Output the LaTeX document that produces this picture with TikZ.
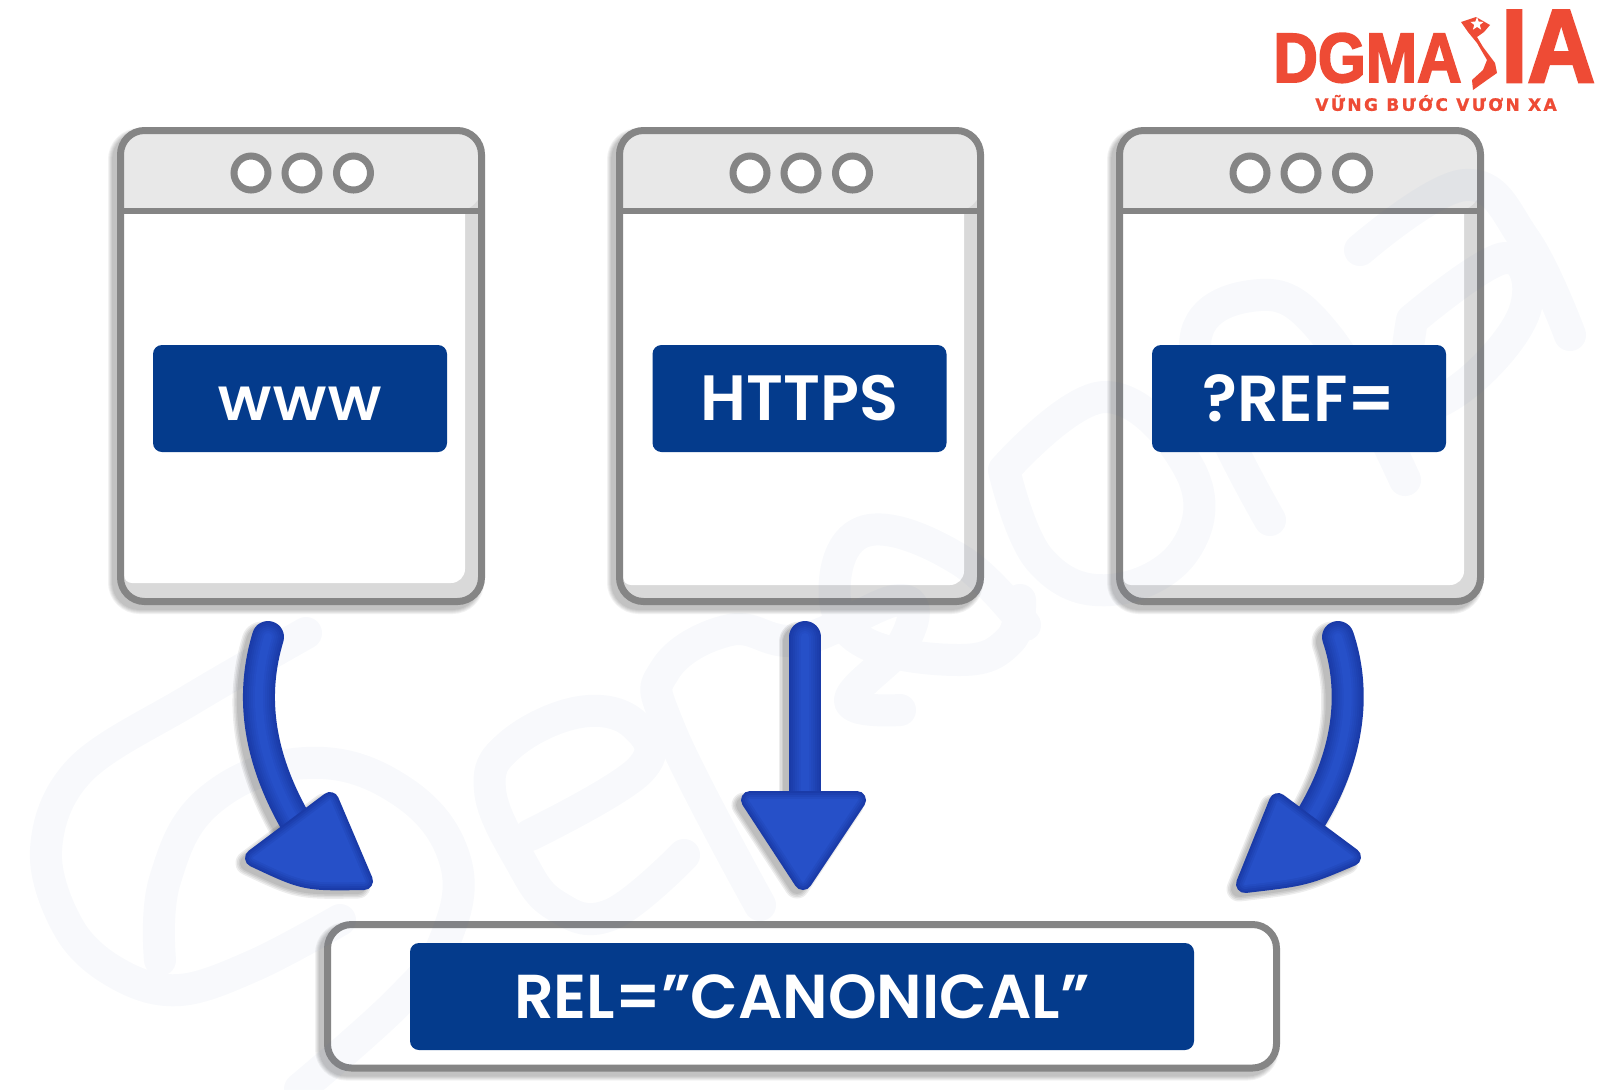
\documentclass[tikz,border=0pt]{standalone}
\usepackage{fontspec}
\usetikzlibrary{shapes.geometric}
\setmainfont{Poppins}[BoldFont={Poppins SemiBold}]
\newfontfamily\logofont{Liberation Sans}[BoldFeatures={FakeBold=2.5,FakeStretch=.88}]
\newfontfamily\logotall{Liberation Sans}[BoldFeatures={FakeBold=2.5,FakeStretch=.9}]
\newfontfamily\tagfont[LetterSpace=14,BoldFeatures={FakeBold=1}]{DejaVu Sans}
\definecolor{wgrey}{HTML}{858585}
\definecolor{wbar}{HTML}{E8E8E8}
\definecolor{wband}{HTML}{D9D9D9}
\definecolor{navy}{HTML}{043B8C}
\definecolor{arrowdark}{HTML}{1A3BA8}
\definecolor{arrowlight}{HTML}{2650C8}
\definecolor{logored}{HTML}{EE4B35}
\definecolor{wmark}{HTML}{3C64B4}
\tikzset{
  winfill/.style={rectangle,rounded corners=12pt,minimum width=180.5pt,minimum height=235.5pt,inner sep=0pt,outer sep=0pt,fill=wband},
  winframe/.style={rectangle,rounded corners=12pt,minimum width=180.5pt,minimum height=235.5pt,inner sep=0pt,outer sep=0pt,draw=wgrey,line width=3.5pt},
  dotbtn/.style={circle,draw=wgrey,fill=white,line width=3.5pt,minimum size=17pt,inner sep=0pt,outer sep=0pt},
  bluebox/.style={rectangle,rounded corners=4.5pt,fill=navy,text=white,minimum width=147pt,minimum height=53.5pt,inner sep=0pt,outer sep=0pt,font=\bfseries\fontsize{31}{36}\selectfont},
  wm/.style={draw=wmark,line width=16pt,line cap=round,line join=round}
}
% soft drop shadow of a stroked outline
\newcommand{\softstroke}[2]{%
  \foreach \dd in {0,1,2,3,4}{%
    \draw[black,opacity=.05,line width=#2+\dd pt,line join=round,line cap=round,transform canvas={xshift=-2.5pt,yshift=-2.5pt}] #1;}}
% one browser window
\newcommand{\browser}[3]{%
  \softstroke{(#2-180.5,130.5) [rounded corners=12pt] -- (#2+180.5,130.5) -- (#2+180.5,601.5) -- (#2-180.5,601.5) -- cycle}{3.5pt}
  \node[winfill] (#1fill) at (#2,366) {};
  \fill[white] (#2-177,211) -- (#2+164,211) [rounded corners=7pt] -- (#2+164,#3) [rounded corners=4pt] -- (#2-177,#3) [sharp corners] -- cycle;
  \fill[wbar,rounded corners=12pt] (#2-180.5,211) -- (#2-180.5,130.5) -- (#2+180.5,130.5) -- (#2+180.5,211) [sharp corners] -- cycle;
  \draw[wgrey,line width=3pt] (#2-180.5,211) -- (#2+183,211);
  \node[winframe] (#1) at (#2,366) {};
  \node[dotbtn] (#1a) at (#2-50,173) {};
  \node[dotbtn] (#1b) at (#2+1,173) {};
  \node[dotbtn] (#1c) at (#2+52.5,173) {};
}
% one thick arrow: #1 shaft path, #2 head path
\newcommand{\bluearrow}[2]{%
  \foreach \dd in {0,1.5,3,4.5}{%
    \draw[black,opacity=.07,line width=16pt+\dd pt,line cap=round,transform canvas={xshift=-3pt,yshift=-2.5pt}] #1;
    \draw[black,opacity=.07,fill=black,line width=8pt+\dd pt,line join=round,transform canvas={xshift=-3pt,yshift=-2.5pt}] #2;}
  \foreach \ww/\mm in {16/0,14/17,12/33,10/50,8/67,6/83,4/100}{%
    \draw[arrowlight!\mm!arrowdark,line width=\ww pt,line cap=round] #1;}
  \foreach \ww/\mm in {9/0,7/25,5/50,3/75,1/100}{%
    \draw[arrowlight!\mm!arrowdark,fill=arrowlight!\mm!arrowdark,line width=\ww pt,line join=round] #2;}
}
\begin{document}
\begin{tikzpicture}[x=0.5pt,y=-0.5pt]
\useasboundingbox (0,0) rectangle (1600,1089);
\fill[white] (0,0) rectangle (1600,1089);

% windows
\browser{wa}{301}{583}
\browser{wb}{800}{585}
\browser{wc}{1300}{585}

% lower frame
\softstroke{[rounded corners=12pt] (327.5,924.5) -- (1276.5,924.5) -- (1276.5,1068) -- (327.5,1068) -- cycle}{3.5pt}
\node[rectangle,rounded corners=12pt,minimum width=474.5pt,minimum height=71.75pt,inner sep=0pt,outer sep=0pt,fill=white,draw=wgrey,line width=3.5pt] (canon) at (802,996.25) {};

% pale watermark
\begin{scope}[transparency group,opacity=.035]
\draw[wm] plot[smooth,tension=.6] coordinates {(306,633) (190,700) (80,770) (46,850) (70,930) (120,975) (180,990) (255,965) (340,920)};
\draw[wm] plot[smooth,tension=.7] coordinates {(160,960) (165,880) (210,800) (306,763) (400,790) (455,860) (445,940) (400,1000) (300,1089)};
\draw[wm] plot[smooth,tension=.7] coordinates {(530,835) (640,770) (635,725) (580,712) (510,745) (490,790) (520,860) (555,905) (610,915) (684,855)};
\draw[wm] plot[smooth,tension=.7] coordinates {(760,905) (670,730) (665,670) (730,630) (800,640) (900,600) (905,640) (850,700) (900,710)};
\draw[wm] plot[smooth,tension=.7] coordinates {(1025,625) (960,560) (870,530) (835,580) (860,640) (960,660) (1010,640) (1020,600)};
\draw[wm] plot[smooth,tension=.7] coordinates {(1004,470) (1105,397) (1190,470) (1185,550) (1110,590) (1040,560) (1004,470)};
\draw[wm] plot[smooth,tension=.7] coordinates {(1270,520) (1195,350) (1260,295) (1330,340) (1405,480)};
\draw[wm] plot[smooth,tension=.7] coordinates {(1360,250) (1465,185) (1525,240) (1570,335)};
\draw[wm] plot[smooth,tension=.7] coordinates {(1412,320) (1505,258) (1525,310) (1465,385) (1410,400) (1412,320)};
\end{scope}

% blue labels
\node[bluebox] (www) at (300,398.5) {\smash{\raisebox{-10.75pt}{\fontsize{24}{30}\selectfont\addfontfeature{FakeStretch=1.12}WWW}}};
\node[bluebox] (https) at (799.5,398.5) {\fontsize{32}{36}\selectfont HTTPS};
\node[bluebox] (ref) at (1299,398.5) {\fontsize{32.5}{36}\selectfont ?REF=};
\node[bluebox,minimum width=392pt] (canonbox) at (802,996.5) {REL=”CANONICAL”};

% arrows
\coordinate (a1s) at (268,637); \coordinate (a1p) at (252,690); \coordinate (a1q) at (252,760); \coordinate (a1e) at (312,848);
\coordinate (h1a) at (330,801); \coordinate (h1b) at (364,881); \coordinate (h1c) at (254,858);
\coordinate (h1d) at (305,882);
\bluearrow{(a1s) .. controls (a1p) and (a1q) .. (a1e)}{(h1a) -- (h1b) .. controls (h1d) .. (h1c) -- cycle}

\coordinate (a2s) at (805,637); \coordinate (a2e) at (805,810);
\coordinate (h2a) at (750,800); \coordinate (h2b) at (857,800); \coordinate (h2c) at (803,881);
\bluearrow{(a2s) -- (a2e)}{(h2a) -- (h2b) -- (h2c) -- cycle}

\coordinate (a3s) at (1338,637); \coordinate (a3p) at (1356,690); \coordinate (a3q) at (1352,760); \coordinate (a3e) at (1300,835);
\coordinate (h3a) at (1278,802); \coordinate (h3b) at (1352,857); \coordinate (h3c) at (1245,884);
\coordinate (h3d) at (1305,877);
\bluearrow{(a3s) .. controls (a3p) and (a3q) .. (a3e)}{(h3a) -- (h3b) .. controls (h3d) .. (h3c) -- cycle}

% logo
\node[anchor=base west,inner sep=0pt,text=logored,font=\logofont\bfseries\fontsize{35}{40}\selectfont] (dgma) at (1273,82) {DGMA};
\node[anchor=base west,inner sep=0pt,text=logored,font=\logotall\bfseries\fontsize{52}{58}\selectfont] (ia) at (1501,82) {IA};
\fill[logored] (1461,22) -- (1476,17) -- (1490,25) -- (1484,32) -- (1477,37) -- (1483,47) -- (1495,63) -- (1497,73) -- (1487,80) -- (1473,90) -- (1472,80) -- (1483,70) -- (1487,60) -- (1477,43) -- (1468,32) -- cycle;
\node[star,star points=5,star point ratio=2.4,fill=white,inner sep=0pt,minimum size=7pt] (mapstar) at (1477,24) {};
\node[anchor=center,inner sep=0pt,text=logored,font=\tagfont\bfseries\fontsize{8.5}{10}\selectfont] (tag) at (1436,103) {VỮNG BƯỚC VƯƠN XA};
\end{tikzpicture}
\end{document}
